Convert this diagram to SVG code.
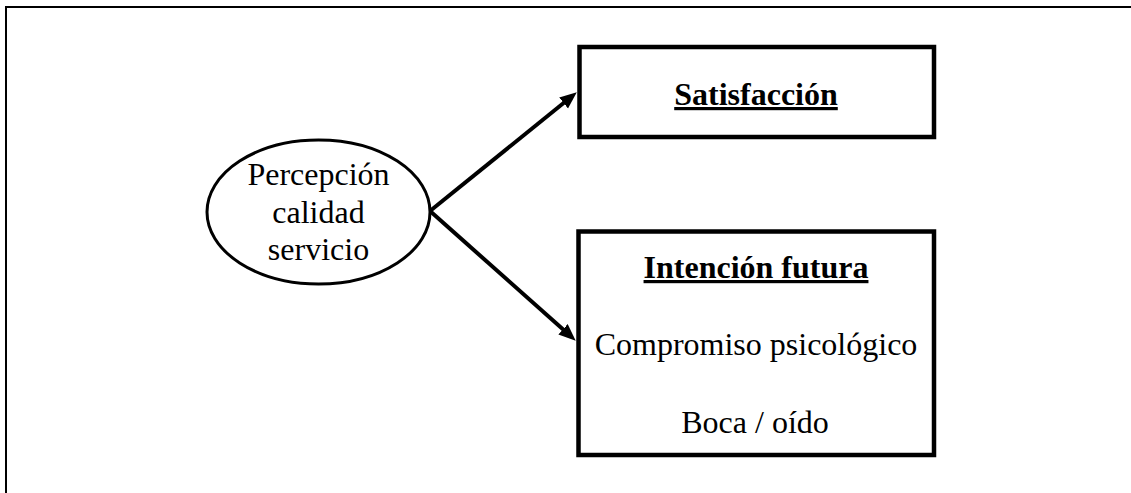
<svg xmlns="http://www.w3.org/2000/svg" width="1131" height="493" viewBox="0 0 1131 493">
<style>
.box{fill:#fff;stroke:#000;stroke-width:4.5}
.ell{fill:#fff;stroke:#000;stroke-width:3}
.t{font-family:"Liberation Serif","Times New Roman",serif;font-size:32px;fill:#000;text-anchor:middle}
.b{font-weight:bold;text-decoration:underline}
.conn{stroke:#000;stroke-width:4;fill:none}
</style>
<defs>
<marker id="ah" markerUnits="userSpaceOnUse" markerWidth="20" markerHeight="16" refX="4" refY="7" orient="auto">
<path d="M0,0 L17,7 L0,14 z" fill="#000"/>
</marker>
</defs>
<rect width="1131" height="493" fill="#fff"/>
<path d="M6,493 V7 H1131" fill="none" stroke="#000" stroke-width="2"/>
<g id="connectors">
<line class="conn" x1="430" y1="211" x2="566.7" y2="100.5" marker-end="url(#ah)"/>
<line class="conn" x1="430" y1="211" x2="566" y2="332" marker-end="url(#ah)"/>
</g>
<g id="percepcion">
<ellipse class="ell" cx="318.5" cy="212" rx="111.5" ry="72"/>
<text class="t" x="318.5" y="185">Percepción</text>
<text class="t" x="318.5" y="223">calidad</text>
<text class="t" x="318.5" y="260">servicio</text>
</g>
<g id="satisfaccion">
<rect class="box" x="579.5" y="47" width="354.5" height="90"/>
<text class="t b" x="756" y="105">Satisfacción</text>
</g>
<g id="intencion">
<rect class="box" x="578.5" y="231.5" width="355.5" height="223.5"/>
<text class="t b" x="756" y="278">Intención futura</text>
<text class="t" x="756" y="355">Compromiso psicológico</text>
<text class="t" x="755" y="433">Boca / oído</text>
</g>
</svg>
